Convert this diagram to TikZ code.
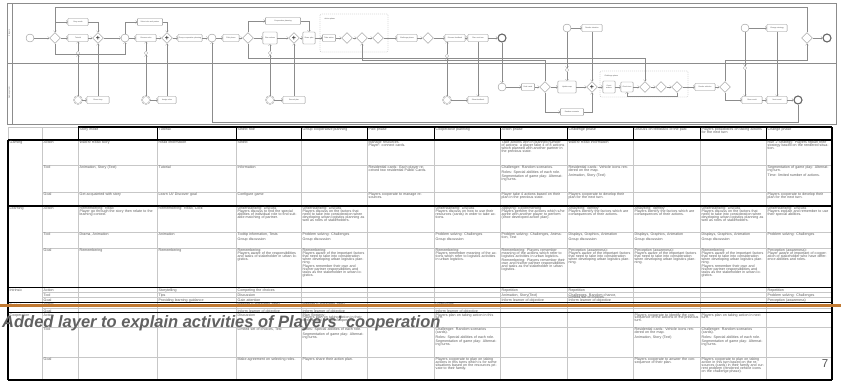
\documentclass[tikz,border=0pt]{standalone}
\usepackage{fontspec}
\setmainfont{Liberation Sans}
\usetikzlibrary{shapes.geometric,positioning}

\definecolor{slideorange}{RGB}{194,122,50}
\definecolor{linegray}{RGB}{140,140,140}
\def\colx{{8,42,78,157,236,301,367,434,500,567,633,700,766,832}}
\newcommand\bpmnfont{\fontsize{1.8}{2.1}\selectfont}
\newcommand\cellfont{\fontsize{3.6}{2.9}\selectfont\lineskiplimit=-4pt\relax}
\newcommand\tabrow[3]{%
  \foreach \txt [count=\i from 2] in {#3}{%
    \pgfmathsetmacro\xl{\colx[\i-1]+1.5}%
    \pgfmathsetmacro\xw{\colx[\i]-\colx[\i-1]-3}%
    \node[cell, text width=\xw pt] (#1-\i) at (\xl,#2+0.9) {\txt};
  }%
}

\begin{document}
\begin{tikzpicture}[x=1pt,y=-1pt,
  every node/.style={font=\bpmnfont},
  task/.style={rectangle,rounded corners=0.8pt,draw=linegray,line width=0.35pt,fill=white,
    inner sep=0.6pt,minimum height=7pt,text width=#1,align=center,text=black!70},
  gw/.style={diamond,draw=linegray,line width=0.35pt,fill=white,minimum size=11pt,inner sep=0pt},
  pgw/.style={gw,font=\fontsize{7}{7}\selectfont\bfseries,text=black!80},
  evt/.style={circle,draw=linegray,line width=0.35pt,fill=white,minimum size=8pt,inner sep=0pt},
  endevt/.style={evt,line width=1.1pt,draw=black!60},
  msgevt/.style={evt,double,double distance=0.6pt,line width=0.3pt},
  msgmark/.style={circle,draw=linegray,line width=0.3pt,fill=white,minimum size=3.5pt,inner sep=0pt},
  flow/.style={->,draw=linegray,line width=0.35pt},
  vh/.style={to path={|- (\tikztotarget) \tikztonodes}},
  hv/.style={to path={-| (\tikztotarget) \tikztonodes}},
  phasebox/.style={draw=linegray,dash pattern=on 1pt off 1pt,line width=0.3pt,rounded corners=1pt},
  cell/.style={anchor=north west,inner sep=0pt,align=left,font=\cellfont,text=black!65},
  gridline/.style={draw=black!22,line width=0.8pt},
  thickrule/.style={draw=black,line width=1.1pt},
  lanelabel/.style={rotate=90,text=black!70},
]
\useasboundingbox (0,0) rectangle (841,389);

% process model
\draw[linegray,line width=0.4pt] (7,3) rectangle (836,124);
\draw[linegray,line width=0.4pt] (12,3) -- (12,124) (7,63) -- (836,63);
\node[lanelabel] (lane1) at (9.5,33) {Players};
\node[lanelabel] (lane2) at (9.5,93) {Game system};

\draw[phasebox] (320,14) rectangle (388,52);
\node[anchor=north west,text=black!70] (phase1) at (321,15) {Action phase};
\draw[phasebox] (600,71) rectangle (688,97);
\node[anchor=north west,text=black!70] (phase2) at (601,72) {Challenge phase};

\node[evt]          (s0)   at (30,38)  {};
\node[gw]           (g1)   at (55,38)  {};
\node[task=19pt]    (t1)   at (78,22)  {Story mode};
\node[task=19pt]    (t2)   at (78,38)  {Tutorial};
\node[pgw]          (p1)   at (98,38)  {+};
\node[evt]          (e1)   at (125,38) {};
\node[task=24pt]    (t3)   at (150,22) {Select role and partner};
\node[task=19pt]    (t4)   at (146,38) {Discuss roles};
\node[pgw]          (p2)   at (167,38) {+};
\node[task=23pt]    (t5)   at (190,38) {Group cooperative planning};
\node[evt]          (e2)   at (212,38) {};
\node[task=15pt]    (t6)   at (231,38) {Pilot phase};
\node[gw]           (g2)   at (248,38) {};
\node[task=34pt]    (t7)   at (283,21) {Cooperative planning};
\node[task=13pt,minimum height=12pt] (t8) at (270,38) {Plan actions};
\node[pgw]          (p3)   at (294,38) {+};
\node[task=11pt,minimum height=12pt] (t9) at (309,38) {Share plan};
\node[task=12pt]    (t10)  at (329,38) {Take action};
\node[gw]           (g3)   at (347,38) {};
\node[gw]           (g4)   at (362,38) {};
\node[gw]           (g5)   at (378,38) {};
\node[task=19pt]    (t11)  at (407,38) {Challenge phase};
\node[gw]           (g6)   at (428,38) {};
\node[task=19pt]    (t12)  at (455,38) {Discuss feedback};
\node[task=19pt]    (t13)  at (478,38) {Plan next turn};
\node[endevt]       (end1) at (502,38) {};
\node[evt]          (e3)   at (567,28) {};
\node[task=19pt]    (t14)  at (592,28) {Render situation};
\node[evt]          (e4)   at (745,28) {};
\node[task=19pt]    (t15)  at (777,28) {Change strategy};
\node[gw]           (g7)   at (807,38) {};
\node[endevt]       (end2) at (827,38) {};

\node[msgmark]      (c1)   at (78,53)  {};
\node[msgmark]      (c2)   at (146,53) {};
\node[msgmark]      (c3)   at (270,53) {};
\node[msgmark]      (c4)   at (447,56) {};
\node[msgmark]      (c5)   at (567,70) {};
\node[msgmark]      (c6)   at (745,68) {};

\node[msgevt]       (m1)   at (78,100)  {};
\node[task=21pt]    (mt1)  at (98,100)  {Show story};
\node[msgevt]       (m2)   at (146,100) {};
\node[task=17pt]    (mt2)  at (167,100) {Assign roles};
\node[msgevt]       (m3)   at (270,100) {};
\node[task=21pt]    (mt3)  at (294,100) {Record plan};
\node[msgevt]       (m4)   at (447,100) {};
\node[task=19pt]    (mt4)  at (478,100) {Show feedback};
\node[evt]          (e5)   at (502,87)  {};
\node[task=12pt]    (l1)   at (528,87)  {Deal cards};
\node[gw]           (lg1)  at (545,87)  {};
\node[task=17pt,minimum height=12pt] (l2) at (567,87) {Update map};
\node[task=22pt]    (l3)   at (572,112) {Random scenario};
\node[pgw]          (lp1)  at (592,87)  {+};
\node[task=11pt,minimum height=12pt] (l4) at (609,87) {Count actions};
\node[task=11pt,minimum height=10pt] (l5) at (627,87) {Check turn};
\node[gw]           (lg2)  at (645,87)  {};
\node[gw]           (lg3)  at (661,87)  {};
\node[gw]           (lg4)  at (677,87)  {};
\node[task=19pt]    (l6)   at (705,87)  {Render vehicles};
\node[gw]           (lg5)  at (725,87)  {};
\node[task=19pt]    (l7)   at (752,100) {Show result};
\node[task=19pt]    (l8)   at (777,100) {Next round};
\node[endevt]       (end3) at (798,100) {};

\path[flow] (s0) edge (g1)
            (g1) edge[vh] (t1)
            (g1) edge (t2)
            (t1) edge[hv] (p1)
            (t2) edge (p1)
            (p1) edge (e1)
            (e1) edge[vh] (t3)
            (e1) edge (t4)
            (t3) edge[hv] (p2)
            (t4) edge (p2)
            (p2) edge (t5)
            (t5) edge (e2)
            (e2) edge (t6)
            (t6) edge (g2)
            (g2) edge[vh] (t7)
            (g2) edge (t8)
            (t8) edge (p3)
            (t7) edge[hv] (t9)
            (p3) edge (t9)
            (t9) edge (t10)
            (t10) edge (g3)
            (g3) edge (g4)
            (g4) edge (g5)
            (g5) edge (t11)
            (t11) edge (g6)
            (g6) edge (t12)
            (t12) edge (t13)
            (t13) edge (end1)
            (e3) edge (t14)
            (e4) edge (t15)
            (g7) edge (end2);
\path[flow] (m1) edge (c1) (c1) edge (t2)
            (m2) edge (c2) (c2) edge (t4)
            (m3) edge (c3) (c3) edge (t8)
            (m4) edge (c4) (c4) edge (c4 |- t12.south)
            (m1) edge (mt1) (m2) edge (mt2) (m3) edge (mt3) (m4) edge (mt4)
            (mt1) edge (p1) (mt2) edge (p2) (mt3) edge (p3)
            (t13) edge (mt4)
            (end1) edge (e5)
            (e3) edge (c5) (c5) edge (l2)
            (t14) edge (lp1)
            (e4) edge (c6) (c6) edge (c6 |- l7.north)
            (t15) edge (l8);
\path[flow] (e5) edge (l1)
            (l1) edge (lg1)
            (lg1) edge (l2)
            (lg1) edge[vh] (l3)
            (l3) edge[hv] (lp1)
            (l2) edge (lp1)
            (lp1) edge (l4)
            (l4) edge (l5)
            (l5) edge (lg2)
            (lg2) edge (lg3)
            (lg3) edge (lg4)
            (lg4) edge (l6)
            (l6) edge (lg5)
            (lg5) edge[vh] (l7)
            (l7) edge (l8)
            (l8) edge (end3);
\draw[flow] (g1.south) -- ++(0,10) -| (e1.south);
\draw[flow] (g7.north) -- ++(0,-25.5) -| (g1.north);
\draw[flow] (g2.south) -- ++(0,14) -| (lg2.north);
\draw[flow] (lg1.north) -- ++(0,-21.5) -| (g4.south);
\draw[flow] (lg5.north) -- ++(0,-21.5) -| (g7.south);
\draw[flow] (lg4.south) -- ++(0,3) -| (l5.south);
\draw[flow] (end3.south) -- ++(0,18) -| (e2.south);

% table grid
\foreach \y in {165,192,232,248,292.3,297.3,305.5,308.8,327,357}
  \draw[gridline] (42,\y) -- (832,\y);
\foreach \x in {42,78,157,236,301,367,434,500,567,633,700,766}
  \draw[gridline] (\x,127) -- (\x,380);
\draw[gridline] (8,127) -- (78,127) (8,127) -- (8,140);
\foreach \x in {78,157,236,301,367,434,500,567,633,700,766}
  \draw[thickrule,line width=0.8pt] (\x,127) -- (\x,140);
\draw[thickrule] (78,127) -- (832,127);
\foreach \y in {140,206,287.5,302.3,312.3,380}
  \draw[thickrule] (8,\y) -- (832,\y);
\draw[thickrule] (8,140) -- (8,380) (832,127) -- (832,380);

% table text
\node[cell,text width=31pt] (grp-gam) at (9.5,141) {Gaming};
\node[cell,text width=31pt] (grp-lrn) at (9.5,207) {Learning};
\node[cell,text width=31pt] (grp-int) at (9.5,288.4) {Intrinsic};
\node[cell,text width=31pt] (grp-ext) at (9.5,303.2) {Extrinsic};
\node[cell,text width=31pt] (grp-cop) at (9.5,313.2) {Cooperation};

\tabrow{head}{127}{{},{Story mode},{Tutorial},{Select role},{Group cooperative planning},{Pilot phase},{Cooperative planning},{Action phase},{Challenge phase},{Discuss on feedback of the past},{Players possibilities on taking actions for the next turn},{Change phase}}

\tabrow{gamA}{140}{{Action},{Watch/ Read story},{Read information},{Select},{},{Manage resources.\\Player: connect cards.},{},{Take actions with in planned number of actions: a player take 4 of 8 actions which planned with another partner in the previous state.},{Watch/ Read information},{},{},{Run 2 Strategy: Players replan their strategy based on the rendered situation.}}
\tabrow{gamT}{165}{{Tool},{Animation, Story (Text)},{Tutorial},{Information},{},{Residential cards: Each player received two residential Public Cards.},{},{Challenger: Random scenarios.\\[1.5pt]Roles: Special abilities of each role.\\[1.5pt]Segmentation of game play: Alternating turns.},{Residential cards: Vehicle icons rendered on the map.\\[1.5pt]Animation, Story (Text)},{},{},{Segmentation of game play: Alternating turn.\\[1.5pt]Time: limited number of actions.}}
\tabrow{gamG}{192}{{Goal},{Get acquainted with story},{Learn UI/ Discover goal},{Configure game},{},{Players cooperate to manage resources.},{},{Player take 4 actions based on their plan in the previous state.},{Players cooperate to develop their plan for the next turn.},{},{},{Players cooperate to develop their plan for the next turn.}}

\tabrow{lrnA}{206}{{Action},{Remembering: Read\\Player go through the story then relate to the learning context.},{Remembering: Read, Click},{Understanding: Discuss\\Players discuss to find the special abilities of individual role to find suitable matching of partner.},{Understanding: Discuss\\Players discuss on the factors that need to take into consideration when developing urban logistics planning as well as roles of stakeholders.},{},{Understanding: Discuss\\Players discuss on how to use their resources (cards) in order to take actions.},{Applying: Experimenting\\Players perform the actions which s/he agree with another player to perform (once developed action plan).},{Analyzing: Identify\\Players identify the factors which are consequences of their actions.},{Analyzing: Identify\\Players identify the factors which are consequences of their actions.},{Understanding: Discuss\\Players discuss on the factors that need to take into consideration when developing urban logistics planning as well as roles of stakeholders.},{Understanding: Discuss\\Players explain and remember to use their special abilities.}}
\tabrow{lrnT}{232}{{Tool},{Drama, Animation},{Animation},{Tooltip information, Tests\\[1.5pt]Group discussion},{Problem solving: Challenges\\[1.5pt]Group discussion},{},{Problem solving: Challenges\\[1.5pt]Group discussion},{Problem solving: Challenges, Animation, Test},{Displays, Graphics, Animation\\[1.5pt]Group discussion},{Displays, Graphics, Animation\\[1.5pt]Group discussion},{Displays, Graphics, Animation\\[1.5pt]Group discussion},{Problem solving: Challenges}}
\tabrow{lrnG}{248}{{Goal},{Remembering},{Remembering},{Remembering:\\Players aware of the responsibilities and tasks of stakeholder in urban logistics.},{Remembering:\\Players aware of the important factors that need to take into consideration when developing urban logistics planning.\\[1.5pt]Players remember their own and his/her partner responsibilities and tasks as the stakeholder in urban logistics.},{},{Remembering:\\Players remember meaning of the actions which refer to logistics activities in urban logistics.},{Remembering: Players remember meaning of the actions which refer to logistics activities in urban logistics.\\[1.5pt]Remembering: Players remember their own and his/her partner responsibilities and tasks as the stakeholder in urban logistics.},{Perception (awareness):\\Players aware of the important factors that need to take into consideration when developing urban logistics planning.},{Perception (awareness):\\Players aware of the important factors that need to take into consideration when developing urban logistics planning.},{Remembering:\\Players aware of the important factors that need to take into consideration when developing urban logistics planning.\\[1.5pt]Players remember their own and his/her partner responsibilities and tasks as the stakeholder in urban logistics.},{Perception (awareness):\\Player aware of important of cooperation of stakeholder who have difference abilities and roles.}}

\tabrow{intA}{287.5}{{Action},{},{Storytelling},{Competing the choices},{},{},{},{Repetition},{Repetition},{},{},{Repetition}}
\tabrow{intT}{292.3}{{Tool},{},{Tips},{Discussion},{},{},{},{Animation, Story(Text)},{Challenges, Random chance,\\Limited set of choices},{},{},{Problem solving: Challenges}}
\tabrow{intG}{297.3}{{Goal},{},{Providing learning guidance},{Gain attention},{},{},{},{Inform learner of objective},{Inform learner of objective},{},{},{Perception (awareness)}}

\tabrow{extA}{301.9}{{Action},{},{},{Reward (Character/Cards)},{Reward (Character/Cards)},{},{Goal/Score},{},{},{},{},{}}
\tabrow{extG}{308.4}{{Goal},{},{},{Inform learner of objective},{Inform learner of objective},{},{Inform learner of objective},{},{},{},{},{}}

\tabrow{copA}{312.3}{{Action},{},{},{Discussion},{Plan Strategy:\\Players plan on taking action in their turns based on their cooperation.},{},{Players plan on taking action in this turn.},{},{},{Players cooperate to identify the consequence of the actions in the previous turn.},{Players plan on taking action in next turn.},{}}
\tabrow{copT}{327}{{Tool},{},{},{Limited set of choices, Test},{Roles: Special abilities of each role.\\[1.5pt]Segmentation of game play: Alternating turns.},{},{Challenger: Random scenarios (cards).\\[1.5pt]Roles: Special abilities of each role.\\[1.5pt]Segmentation of game play: Alternating turns.},{},{},{Residential cards: Vehicle icons rendered on the map.\\[1.5pt]Animation, Story (Text)},{Challenger: Random scenarios (cards).\\[1.5pt]Roles: Special abilities of each role.\\[1.5pt]Segmentation of game play: Alternating turns.},{}}
\tabrow{copG}{357}{{Goal},{},{},{Make agreement on selecting roles.},{Players share their action plan.},{},{Players cooperate to plan on taking actions in this turns which is for some situations based on the resources private to their family.},{},{},{Players cooperate to answer the consequence of their plan.},{Players cooperate to plan on taking action in this turn based on the resources (cards) in their family and current problem (rendered vehicle icons on the challenge phase).},{}}

% slide overlay
\draw[slideorange,line width=2.5pt] (0,305.7) -- (841,305.7);
\node[anchor=base west,inner sep=0pt,text=black!62,
  font=\fontsize{16.5}{18}\selectfont\bfseries\itshape] (caption) at (2,327.6)
  {Added layer to explain activities of Players' cooperation};
\node[text=black!65,font=\fontsize{11.5}{12}\selectfont] (pagenum) at (825,364) {7};
\end{tikzpicture}
\end{document}
